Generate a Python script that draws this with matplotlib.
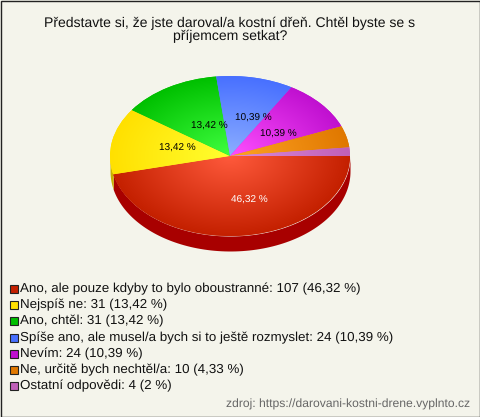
import numpy as np
import matplotlib
matplotlib.use("Agg")
import matplotlib.pyplot as plt
from matplotlib.patches import Rectangle

plt.rcParams["font.family"] = ["Liberation Sans", "DejaVu Sans"]
plt.rcParams["text.hinting"] = "no_hinting"

title = "Představte si, že jste daroval/a kostní dřeň. Chtěl byste se s\npříjemcem setkat?"
labels = [
    "Ano, ale pouze kdyby to bylo oboustranné: 107 (46,32 %)",
    "Nejspíš ne: 31 (13,42 %)",
    "Ano, chtěl: 31 (13,42 %)",
    "Spíše ano, ale musel/a bych si to ještě rozmyslet: 24 (10,39 %)",
    "Nevím: 24 (10,39 %)",
    "Ne, určitě bych nechtěl/a: 10 (4,33 %)",
    "Ostatní odpovědi: 4 (2 %)",
]
values = [107, 31, 31, 24, 24, 10, 4]
pct_labels = ["46,32 %", "13,42 %", "13,42 %", "10,39 %", "10,39 %"]
source = "zdroj: https://darovani-kostni-drene.vyplnto.cz"

inner_colors = ["#ff5a3c", "#ffff30", "#40ff40", "#8caeff", "#ff50ff", "#ffa424", "#da8cda"]
outer_colors = ["#c42000", "#ffe000", "#00c000", "#4870ff", "#c010d0", "#e07800", "#c060b8"]
wall_colors = ["#a80000", "#c8b000", "#009000", "#3050c0", "#900090", "#b06000", "#905088"]
bg = "#f4f4eb"

W, H = 480, 417
fig = plt.figure(figsize=(W / 100, H / 100), dpi=100, facecolor=bg)

# overlay in pixel coords for the texts and legend
over = fig.add_axes([0, 0, 1, 1], zorder=2)
over.set_xlim(0, W)
over.set_ylim(H, 0)
over.axis("off")

# pie axes, stretched so the circle becomes the ellipse
cx, cy, rx, ry, depth = 230, 156, 120, 80, 15
ax = fig.add_axes([(cx - rx) / W, 1 - (cy + ry) / H, 2 * rx / W, 2 * ry / H], zorder=1)
ax.patch.set_alpha(0)
wedges, _ = ax.pie(values, startangle=0, counterclock=False, colors=outer_colors, radius=1)
ax.set_aspect("auto")
ax.set_xlim(-1, 1)
ax.set_ylim(-1, 1)
ax.axis("off")
ax.set_clip_on(False)

# side wall, clockwise angles measured from the east
d = depth / ry
edges = np.cumsum([0] + values) / sum(values) * 360
for i in range(len(values)):
    a0, a1 = edges[i], min(edges[i + 1], 180)
    if a0 >= 180:
        continue
    t = np.radians(np.linspace(a0, a1, 100))
    ax.fill_between(np.cos(t), -np.sin(t), -np.sin(t) - d, color=wall_colors[i], lw=0, zorder=0, clip_on=False)

# radial shading inside every slice
n = 300
xx, yy = np.meshgrid(np.linspace(-1, 1, n), np.linspace(-1, 1, n))
rr = np.clip(np.hypot(xx, yy), 0, 1)[..., None]
for w, c0, c1 in zip(wedges, inner_colors, outer_colors):
    c0 = np.array(matplotlib.colors.to_rgb(c0))
    c1 = np.array(matplotlib.colors.to_rgb(c1))
    img = c0 + (c1 - c0) * rr
    im = ax.imshow(img, extent=(-1, 1, -1, 1), origin="lower", aspect="auto", zorder=2)
    im.set_clip_path(w)
ax.set_xlim(-1, 1)
ax.set_ylim(-1, 1)

# percent labels
pct_pos = [(249, 200), (177, 148), (209, 126), (253, 118), (278, 134)]
for i, (txt, (px, py)) in enumerate(zip(pct_labels, pct_pos)):
    over.text(px, py, txt, ha="center", va="center", fontsize=7.2,
              color="white" if i == 0 else "black")

over.text(230, 29.5, title, ha="center", va="center", fontsize=10.07, linespacing=1.0, color="#111111")

# legend
for i, (lab, col) in enumerate(zip(labels, outer_colors)):
    y = 289 + i * 16.2
    over.add_patch(Rectangle((9.5, y - 4), 8, 8, fc=col, ec="#222222", lw=0.8))
    over.text(20, y, lab, ha="left", va="center", fontsize=9.67, color="#111111")

over.text(470, 404, source, ha="right", va="center", fontsize=8.75, color="#666666")

# frame
over.add_patch(Rectangle((0.5, 0.5), W - 1, H - 1, fc="none", ec="#222222", lw=1, clip_on=False))

fig.savefig("out.png", dpi=100, facecolor=bg)
